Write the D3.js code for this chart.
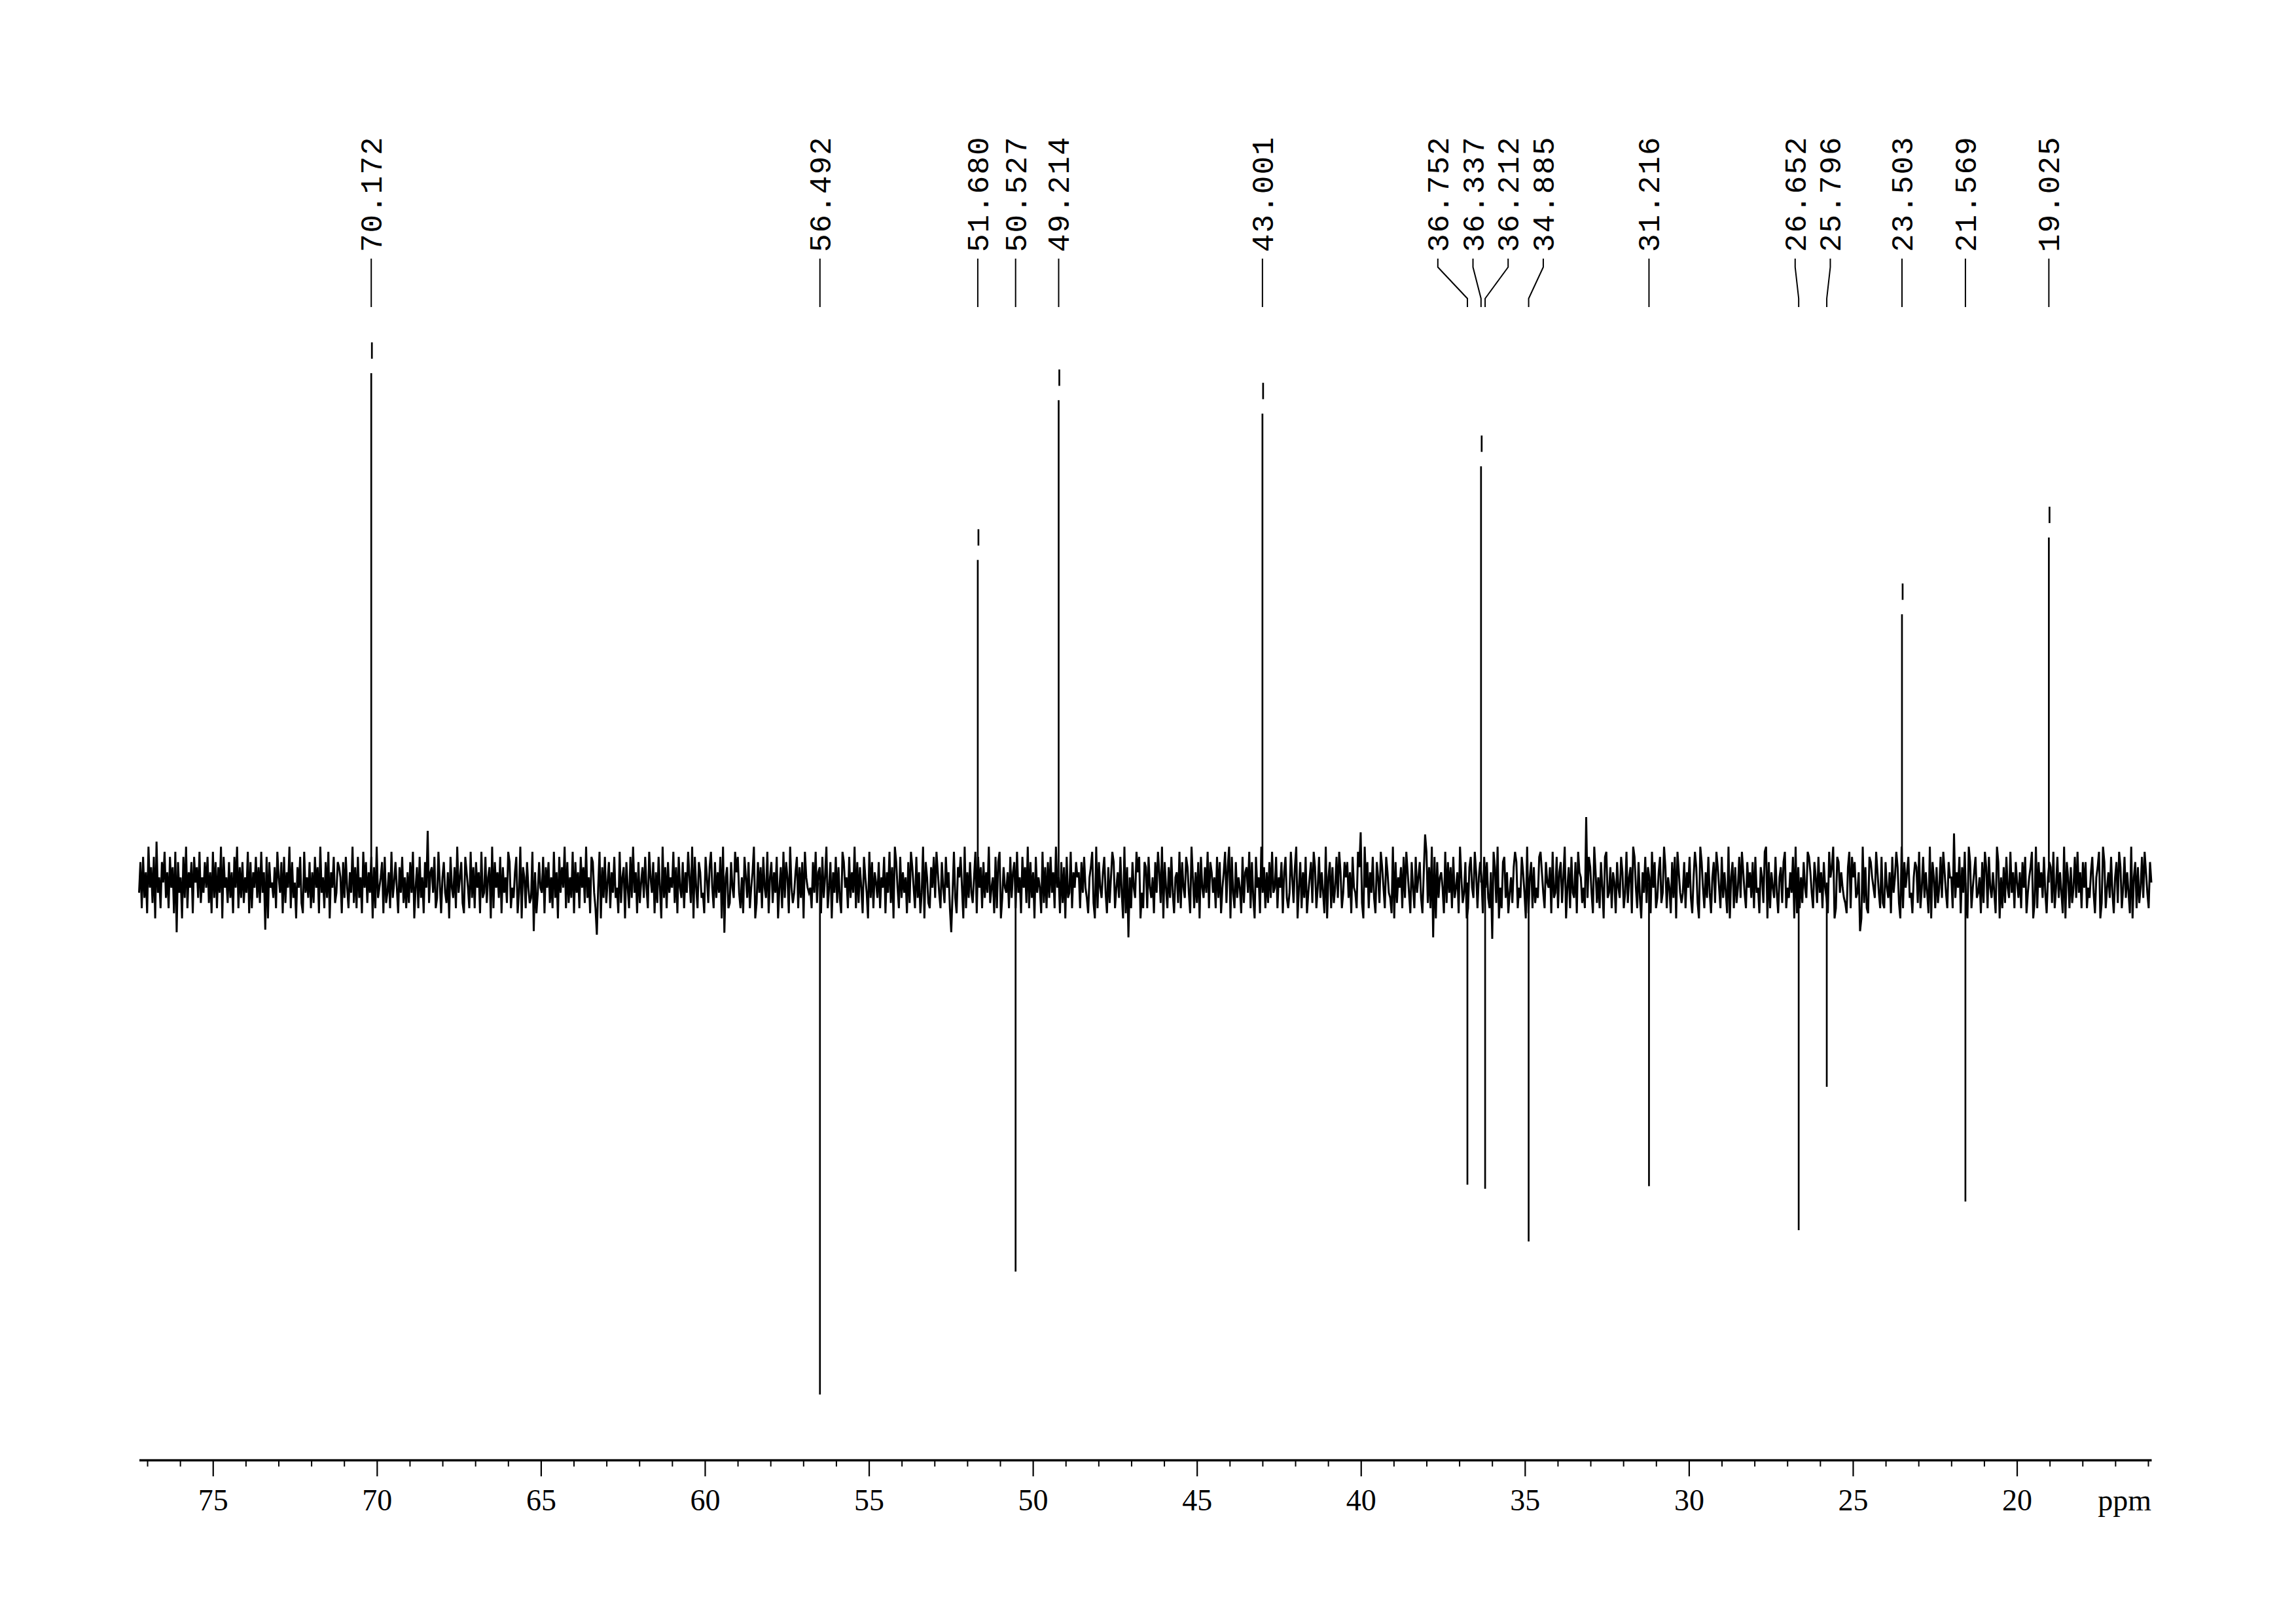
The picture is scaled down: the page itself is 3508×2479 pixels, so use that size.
<!DOCTYPE html>
<html>
<head>
<meta charset="utf-8">
<script src="https://cdn.jsdelivr.net/npm/d3@7"></script>
<style>
  html, body { margin: 0; padding: 0; background: #fff; }
  svg { display: block; }
</style>
</head>
<body>
<script>
// ---------------- data ----------------
const ppmDomain = [77.25, 15.9];
const peakPpm = [70.172, 56.492, 51.680, 50.527, 49.214, 43.001, 36.752, 36.337, 36.212, 34.885, 31.216, 26.652, 25.796, 23.503, 21.569, 19.025];
const peakIntensity = [99.5, -100, 63.0, -76.0, 94.2, 91.6, -59.0, 81.3, -59.8, -70.1, -59.3, -67.9, -39.9, 52.4, -62.3, 67.4];
const peakLabels = ["70.172", "56.492", "51.680", "50.527", "49.214", "43.001", "36.752", "36.337", "36.212", "34.885", "31.216", "26.652", "25.796", "23.503", "21.569", "19.025"];
const majorTicks = [75, 70, 65, 60, 55, 50, 45, 40, 35, 30, 25, 20];
const majorTickLabels = ["75", "70", "65", "60", "55", "50", "45", "40", "35", "30", "25", "20"];
const minorTicks = [77, 76, 74, 73, 72, 71, 69, 68, 67, 66, 64, 63, 62, 61, 59, 58, 57, 56, 54, 53, 52, 51, 49, 48, 47, 46, 44, 43, 42, 41, 39, 38, 37, 36, 34, 33, 32, 31, 29, 28, 27, 26, 24, 23, 22, 21, 19, 18, 17, 16];
const axisUnit = "ppm";
// baseline noise, one character per sample (estimated look of the trace)
const noiseCodes =
  "gmdnfkcphlenbqgjdmiofkdnhlcoemgjbnfpdkhmcnilfoejgm" +
  "hnekcofmdlgpbnhjemfkcnhpdlfmejgocmdkhnfleogkdnbmhi" +
  "fldojgmcnekhpdmfiblhnecogjfmdkenhlcpgjdmfobkhnegml" +
  "jcmfnhdkgpeldnfjcohmekgnbldpfhjmcnegkdofimhclgnejd" +
  "kemgobhldnfjcmhpeklgndfoicjmgekbnhfldpgjmecnkhdofl" +
  "dmhkcofgnejlbpdmhkfnclgjeomdhfkncgpbljdmhefonkcgmh" +
  "gnclhmejdofkbnglhpdmejfocmgkdnhlepfjcnmgdkhoblfnei" +
  "mdkgnfhcoejlbmhdnfpgkcmeilfnhdojgmckenhbpfldmgjhoe" +
  "lcnhfmdkgojepbnhdmkfgcnjelohdmfkgnbpcjldemhfokngdj" +
  "cnjfmdhkpbemgldnhfocjmekgnbhldofmjcphegkndlfmbojhg" +
  "hdmgoeklcnfjpdhmbkgnelfcomhjdnfkgpdmelhcnjgbofmdki" +
  "fmdjhnckgoelbpmhdnfkgjcmeolhdnfkcgpbmjedlhnfokgdmh" +
  "enhkdmgofcljnhbpdkfmgejocnhldmfkgpehjcndmobflhgkdn" +
  "fkmdogjcnhlepdmfkbngjhcoeldmfngkdphjcmelbnfgodkhmj" +
  "kdmgnhfcjloebpdmhfkngclejomdhkfngbpclejdmhfoknbgdm" +
  "ldnhfjcmgokepbmhdlfngcjkeodmhfnlgcpjdkembnhflgodmk" +
  "gjdnfmchkoelpbngdmfjhcneklgodmfbnhjcpgldkemfoghndj" +
  "hmcknfdgojelpbhmdkfncgjmeoldhnfkgcpbjmdlehnfokdgmj" +
  "mfkcnhgdoljebphmdkgnfcmjeolhdnkgfcpbmejhldnfokgcmh" +
  "dngjmfckhoeldpgnbmfjkhcoemgldnfhkcpjegmbdlnhfokdjm" +
  "jcnhmfdkgolepbhdmnfkcgjelomdhfnkgbpcjmdlehfnokgdmi" +
  "hlcofgndkmejpbhldngfmcokjehdmfnlgcpkejdmhbnofgldki" +
  "cmhfnkdgoejlcpnhdmfbkgneljcohmdfknegpldjhcmfnbokge" +
  "gmdkhnfcjolebpmhdkfngcjmeolhdnfkgcpbjmdlehnfokgdmh" +
  "kfmdnghcljeopbmdkhfngcjlemodhfkgnbpcldjemhfonkgdmj" +
  "engkdmhfcojlpbdnmgkhfeclodnjmfgkhbpeldcnmjhfokgdne" +
  "dmhfkcngjolebpdmhknfgcjmleodhnfkgcpbmjdlehnfokgdmj" +
  "jdmfkhnclgoebpmdhknfgjcmeoldnhfkgcpmbjdlenhfogkdmi" +
  "fkdmhncgjlobepdmhkfngcjmleodhnfkgcpbmjdlehnfogkdmh" +
  "mdhfkngcjlobepmdhkfngcjmeoldhnfkgcpbjmdlehnfokgdmi";
const noiseAlphabet = "0123456789abcdefghijklmnopqrstuvwxyz";
const noiseStep = 1.0;
const noiseSpikes = [[76.1, -9.7], [73.4, -9.2], [68.44, 10.1], [65.2, -9.5], [63.3, -10.2], [59.4, -9.8], [52.5, -9.7], [47.1, -10.7], [40.0, 9.8], [38.05, 9.4], [37.8, -10.7], [36.0, -11.0], [33.14, 12.8], [24.8, -9.5], [21.9, 9.6]];

// ---------------- layout ----------------
const W = 3508, H = 2479;
const svg = d3.select("body").append("svg").attr("width", W).attr("height", H)
  .style("background", "#fff");

const x = d3.scaleLinear().domain(ppmDomain).range([212.5, 3287]);
const y = d3.scaleLinear().domain([-100, 100]).range([2130, 566]);
const axisY = 2230;

// noise trace
const N = noiseCodes.length;
const noiseVals = Array.from(noiseCodes, c => (noiseAlphabet.indexOf(c) - 18) * noiseStep);
const noisePts = noiseVals.map((v, i) => [ppmDomain[0] + (ppmDomain[1] - ppmDomain[0]) * i / (N - 1), v]);
noiseSpikes.forEach(([p, v]) => {
  let best = 0, bd = Infinity;
  noisePts.forEach((d, i) => { const dd = Math.abs(d[0] - p); if (dd < bd) { bd = dd; best = i; } });
  noisePts[best][1] = v;
});
svg.append("path")
  .datum(noisePts)
  .attr("fill", "none")
  .attr("stroke", "#000")
  .attr("stroke-width", 3)
  .attr("stroke-linejoin", "miter")
  .attr("d", d3.line().x(d => x(d[0])).y(d => y(d[1])));

// peaks
const peaks = peakPpm.map((p, i) => ({ p, v: peakIntensity[i], label: peakLabels[i] }));
svg.append("g").selectAll("line.peak").data(peaks).join("line")
  .attr("x1", d => x(d.p)).attr("x2", d => x(d.p))
  .attr("y1", y(0)).attr("y2", d => y(d.v))
  .attr("stroke", "#000").attr("stroke-width", 2.7);
svg.append("g").selectAll("line.mark").data(peaks.filter(d => d.v > 0)).join("line")
  .attr("x1", d => x(d.p) + 1).attr("x2", d => x(d.p) + 1)
  .attr("y1", d => y(d.v) - 47).attr("y2", d => y(d.v) - 22)
  .attr("stroke", "#000").attr("stroke-width", 2.7);

// peak label placement (spread overlapping labels)
const minGap = 53.7;
let groups = peaks.map(d => ({ items: [d] })).sort((a, b) => x(a.items[0].p) - x(b.items[0].p));
function place(g) {
  const mean = d3.mean(g.items, d => x(d.p));
  const n = g.items.length;
  g.items.forEach((d, k) => d.lx = mean + (k - (n - 1) / 2) * minGap);
}
groups.forEach(place);
let merged = true;
while (merged) {
  merged = false;
  for (let i = 0; i < groups.length - 1; i++) {
    const a = groups[i], b = groups[i + 1];
    if (b.items[0].lx - a.items[a.items.length - 1].lx < minGap - 0.01) {
      a.items = a.items.concat(b.items);
      groups.splice(i + 1, 1);
      place(a);
      merged = true;
      break;
    }
  }
}

const lab = svg.append("g");
lab.selectAll("path").data(peaks).join("path")
  .attr("fill", "none").attr("stroke", "#000").attr("stroke-width", 2)
  .attr("d", d => `M${d.lx},395V408L${x(d.p)},456V469`);
lab.selectAll("text").data(peaks).join("text")
  .attr("transform", d => `translate(${d.lx + 16},385) rotate(-90)`)
  .attr("font-family", "'Liberation Mono', 'DejaVu Sans Mono', monospace")
  .attr("font-size", 46)
  .attr("letter-spacing", 2)
  .attr("fill", "#000")
  .text(d => d.label);

// axis
const gAxis = svg.append("g").attr("transform", `translate(0,${axisY})`);
gAxis.append("g")
  .call(d3.axisBottom(x).tickValues(minorTicks).tickSize(10).tickSizeOuter(0).tickFormat(""))
  .call(g => g.select(".domain").remove())
  .call(g => g.selectAll(".tick line").attr("stroke-width", 2));
gAxis.append("g")
  .call(d3.axisBottom(x).tickValues(majorTicks).tickSize(25).tickSizeOuter(0).tickPadding(19)
    .tickFormat((d, i) => majorTickLabels[i]))
  .call(g => g.select(".domain").attr("stroke-width", 3.5))
  .call(g => g.selectAll(".tick line").attr("stroke-width", 2.2))
  .call(g => g.selectAll(".tick text")
    .attr("font-family", "'Liberation Serif', serif")
    .attr("font-size", 46)
    .attr("fill", "#000"));
svg.append("text")
  .attr("x", 3287).attr("y", axisY + 77)
  .attr("text-anchor", "end")
  .attr("font-family", "'Liberation Serif', serif")
  .attr("font-size", 46)
  .text(axisUnit);
</script>
</body>
</html>
